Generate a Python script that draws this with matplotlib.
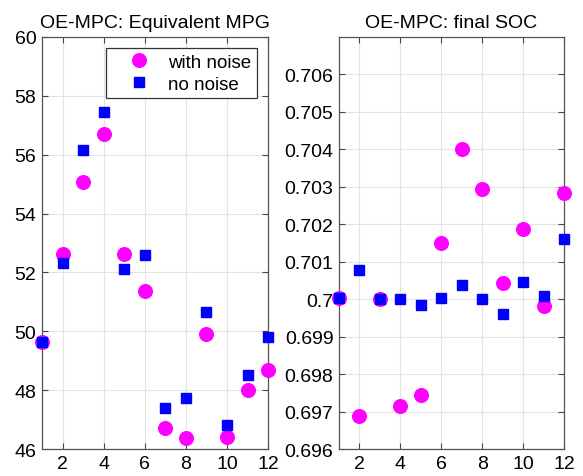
import matplotlib
matplotlib.use('Agg')
import matplotlib.pyplot as plt

plt.rcParams['font.family'] = ['Liberation Sans', 'DejaVu Sans']

runs = list(range(1, 13))

# equivalent MPG
mpg_noise = [49.65, 52.63, 55.07, 56.71, 52.61, 51.36, 46.73, 46.38, 49.90, 46.41, 48.02, 48.70]
mpg_clean = [49.65, 52.32, 56.15, 57.44, 52.10, 52.60, 47.38, 47.74, 50.65, 46.81, 48.50, 49.82]

# final state of charge
soc_noise = [0.70004, 0.69687, 0.70001, 0.69714, 0.69743, 0.70151, 0.70400, 0.70295,
             0.70043, 0.70187, 0.69981, 0.70282]
soc_clean = [0.70004, 0.70077, 0.70000, 0.70000, 0.69985, 0.70004, 0.70039, 0.70001,
             0.69959, 0.70045, 0.70009, 0.70160]

xticks = [2, 4, 6, 8, 10, 12]
mpg_ticks = [46, 48, 50, 52, 54, 56, 58, 60]
soc_ticks = [0.696, 0.697, 0.698, 0.699, 0.700, 0.701, 0.702, 0.703, 0.704, 0.705, 0.706]
soc_labels = ['0.696', '0.697', '0.698', '0.699', '0.7', '0.701', '0.702', '0.703',
              '0.704', '0.705', '0.706']

fig = plt.figure(figsize=(5.83, 4.77), dpi=100)
ax1 = fig.add_axes([0.072, 0.0566, 0.388, 0.864])
ax2 = fig.add_axes([0.5815, 0.0566, 0.386, 0.864])


def style(ax):
    ax.grid(True, color='#e3e3e3', linewidth=0.8)
    ax.set_axisbelow(True)
    ax.tick_params(direction='in', top=True, right=True, labelsize=14, length=4,
                   color='#444444', pad=4)
    for s in ax.spines.values():
        s.set_color('#555555')
        s.set_linewidth(0.9)
    ax.set_xlim(1, 12)
    ax.set_xticks(xticks)


ax1.plot(runs, mpg_noise, 'o', color='#ff00ff', markersize=9.8, label='with noise',
         clip_on=False, zorder=3)
ax1.plot(runs, mpg_clean, 's', color='#0000ff', markersize=7.5, label='no noise',
         clip_on=False, zorder=4)
style(ax1)
ax1.set_ylim(46, 60)
ax1.set_yticks(mpg_ticks)
ax1.set_title('OE-MPC: Equivalent MPG', fontsize=14, pad=7)
leg = ax1.legend(loc='upper right', fontsize=13.5, fancybox=False, framealpha=1,
                 edgecolor='#333333', borderaxespad=0.6, handlelength=2.9,
                 handletextpad=0.1, labelspacing=0.25, borderpad=0.3)
leg.get_frame().set_linewidth(0.9)

ax2.plot(runs, soc_noise, 'o', color='#ff00ff', markersize=9.8, clip_on=False, zorder=3)
ax2.plot(runs, soc_clean, 's', color='#0000ff', markersize=7.5, clip_on=False, zorder=4)
style(ax2)
ax2.set_ylim(0.696, 0.707)
ax2.set_yticks(soc_ticks)
ax2.set_yticklabels(soc_labels)
ax2.set_title('OE-MPC: final SOC', fontsize=14, pad=7)

fig.savefig('out.png', dpi=100)
